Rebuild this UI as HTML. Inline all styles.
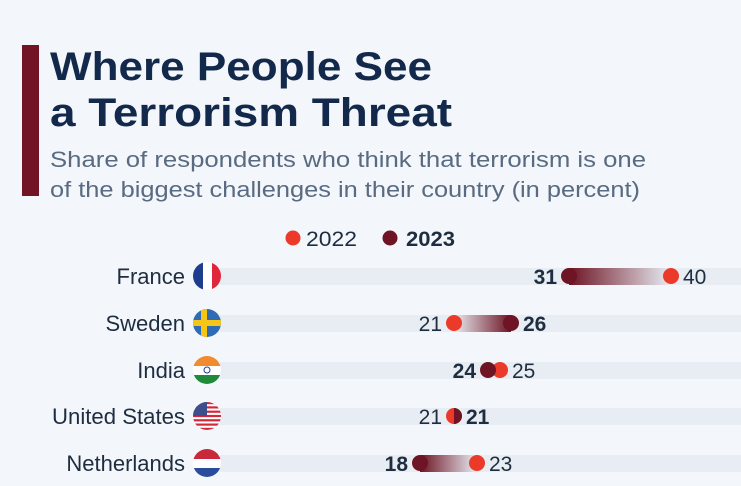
<!DOCTYPE html>
<html><head><style>body{margin:0;background:#f3f6fa;}svg{display:block}</style></head>
<body>
<svg width="741" height="486" xmlns="http://www.w3.org/2000/svg" font-family="Liberation Sans, sans-serif">
<defs>
<linearGradient id="gL" x1="0" x2="1"><stop offset="0" stop-color="#6e1424"/><stop offset="1" stop-color="#6e1424" stop-opacity="0"/></linearGradient>
<linearGradient id="gR" x1="1" x2="0"><stop offset="0" stop-color="#6e1424"/><stop offset="1" stop-color="#6e1424" stop-opacity="0"/></linearGradient>
<clipPath id="fc"><circle cx="0" cy="0" r="14"/></clipPath>
</defs>
<rect width="741" height="486" fill="#f3f6fa"/>
<rect x="22" y="45" width="17" height="151" fill="#731424"/>
<g fill="#13294b" font-weight="bold" font-size="40">
<text x="50" y="80" textLength="382" lengthAdjust="spacingAndGlyphs">Where People See</text>
<text x="50" y="126" textLength="402" lengthAdjust="spacingAndGlyphs">a Terrorism Threat</text>
</g>
<g fill="#596b82" font-size="22">
<text x="50" y="167" textLength="596" lengthAdjust="spacingAndGlyphs">Share of respondents who think that terrorism is one</text>
<text x="50" y="197" textLength="590" lengthAdjust="spacingAndGlyphs">of the biggest challenges in their country (in percent)</text>
</g>
<circle cx="293" cy="238" r="7.5" fill="#ec3a2a"/>
<text x="306" y="246" font-size="21" fill="#1e2d40" textLength="51" lengthAdjust="spacingAndGlyphs">2022</text>
<circle cx="390" cy="238" r="7.5" fill="#6e1424"/>
<text x="406" y="246" font-size="21" font-weight="bold" fill="#1e2d40" textLength="49" lengthAdjust="spacingAndGlyphs">2023</text>
<g font-size="22" fill="#1e2d40" text-anchor="end">
<text x="185" y="284">France</text>
<text x="185" y="331">Sweden</text>
<text x="185" y="378">India</text>
<text x="185" y="424" textLength="133" lengthAdjust="spacingAndGlyphs">United States</text>
<text x="185" y="471">Netherlands</text>
</g>
<g fill="#e8edf3">
<rect x="220" y="268" width="525" height="17"/>
<rect x="220" y="315" width="525" height="17"/>
<rect x="220" y="362" width="525" height="17"/>
<rect x="220" y="408" width="525" height="17"/>
<rect x="220" y="455" width="525" height="17"/>
</g>
<g transform="translate(207,276)" clip-path="url(#fc)"><rect x="-14" y="-14" width="10" height="28" fill="#1f3d8f"/><rect x="-4" y="-14" width="9" height="28" fill="#fff"/><rect x="5" y="-14" width="10" height="28" fill="#e0263a"/></g>
<g transform="translate(207,323)" clip-path="url(#fc)"><rect x="-14" y="-14" width="28" height="28" fill="#2f6cb3"/><rect x="-14" y="-3" width="28" height="6" fill="#f5c518"/><rect x="-6" y="-14" width="6" height="28" fill="#f5c518"/></g>
<g transform="translate(207,370)" clip-path="url(#fc)"><rect x="-14" y="-14" width="28" height="10" fill="#f28a2e"/><rect x="-14" y="-4" width="28" height="9" fill="#fff"/><rect x="-14" y="5" width="28" height="10" fill="#1e8a3a"/><circle r="3" fill="none" stroke="#1f3d8f" stroke-width="1"/></g>
<g transform="translate(207,416)" clip-path="url(#fc)"><rect x="-14" y="-14" width="28" height="28" fill="#fff"/><g fill="#d3283a"><rect x="-14" y="-14" width="28" height="2.2"/><rect x="-14" y="-9.7" width="28" height="2.2"/><rect x="-14" y="-5.4" width="28" height="2.2"/><rect x="-14" y="-1.1" width="28" height="2.2"/><rect x="-14" y="3.2" width="28" height="2.2"/><rect x="-14" y="7.5" width="28" height="2.2"/><rect x="-14" y="11.8" width="28" height="2.2"/></g><rect x="-14" y="-14" width="14" height="14" fill="#3c4f8c"/></g>
<g transform="translate(207,463)" clip-path="url(#fc)"><rect x="-14" y="-14" width="28" height="10" fill="#c8283a"/><rect x="-14" y="-4" width="28" height="9" fill="#fff"/><rect x="-14" y="5" width="28" height="10" fill="#2b4c9a"/></g>
<g font-size="21" fill="#1e2d40">
<rect x="569" y="268" width="102" height="17" fill="url(#gL)"/>
<circle cx="671" cy="276" r="8" fill="#ec3a2a"/><circle cx="569" cy="276" r="8" fill="#6e1424"/>
<text x="557" y="284" font-weight="bold" text-anchor="end">31</text>
<text x="683" y="284">40</text>
<rect x="454" y="315" width="57" height="17" fill="url(#gR)"/>
<circle cx="454" cy="323" r="8" fill="#ec3a2a"/><circle cx="511" cy="323" r="8" fill="#6e1424"/>
<text x="442" y="331" text-anchor="end">21</text>
<text x="523" y="331" font-weight="bold">26</text>
<circle cx="500" cy="370" r="8" fill="#ec3a2a"/><circle cx="488" cy="370" r="8" fill="#6e1424"/>
<text x="476" y="378" font-weight="bold" text-anchor="end">24</text>
<text x="512" y="378">25</text>
<circle cx="454" cy="416" r="8" fill="#ec3a2a"/><path d="M454 408 A8 8 0 0 1 454 424 Z" fill="#6e1424"/>
<text x="442" y="424" text-anchor="end">21</text>
<text x="466" y="424" font-weight="bold">21</text>
<rect x="420" y="455" width="57" height="17" fill="url(#gL)"/>
<circle cx="477" cy="463" r="8" fill="#ec3a2a"/><circle cx="420" cy="463" r="8" fill="#6e1424"/>
<text x="408" y="471" font-weight="bold" text-anchor="end">18</text>
<text x="489" y="471">23</text>
</g>
</svg>
</body></html>
